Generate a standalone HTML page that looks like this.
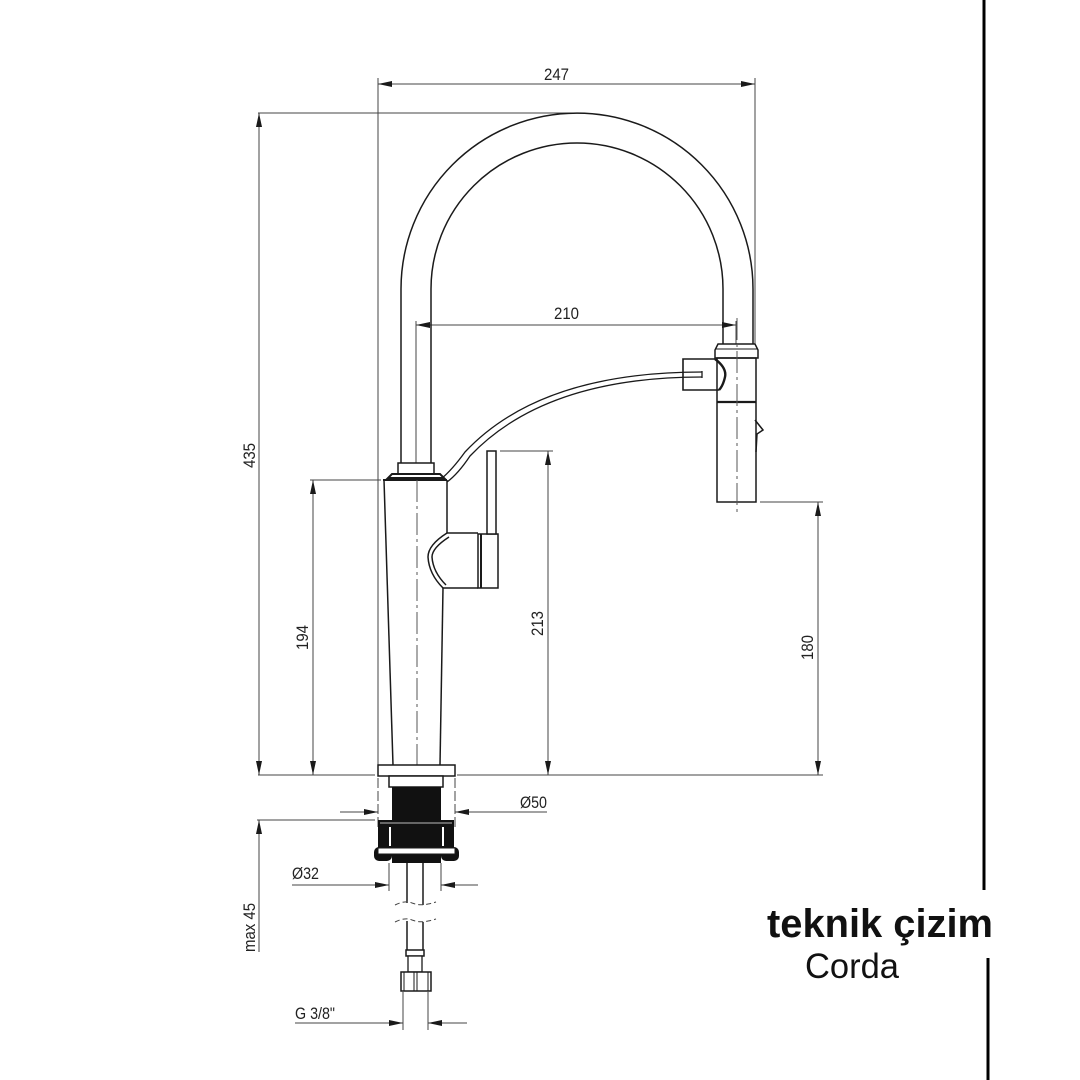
<!DOCTYPE html>
<html><head><meta charset="utf-8"><style>
html,body{margin:0;padding:0;background:#fff;}
svg{display:block;}
.o{stroke:#1a1a1a;stroke-width:1.5;fill:none;}
.d{stroke:#444;stroke-width:1;fill:none;}
.a{fill:#1a1a1a;stroke:none;}
.t{font-family:"Liberation Sans",sans-serif;font-size:17px;fill:#222;}
</style></head><body>
<svg width="1080" height="1080" viewBox="0 0 1080 1080" xmlns="http://www.w3.org/2000/svg">
<rect width="1080" height="1080" fill="#fff"/>
<!-- right border lines -->
<line x1="984" y1="0" x2="984" y2="890" stroke="#000" stroke-width="3"/>
<line x1="988" y1="958" x2="988" y2="1080" stroke="#000" stroke-width="3"/>

<!-- ===== extension lines ===== -->
<line class="d" x1="378" y1="78" x2="378" y2="770"/>
<line class="d" x1="378" y1="778" x2="378" y2="830" stroke-dasharray="10 3"/>
<line class="d" x1="455" y1="778" x2="455" y2="830" stroke-dasharray="10 3"/>
<line class="d" x1="755" y1="78" x2="755" y2="344"/>
<line class="d" x1="258" y1="113" x2="577" y2="113"/>
<line class="d" x1="416" y1="321" x2="416" y2="463"/>
<line class="d" x1="736" y1="321" x2="736" y2="344"/>
<line class="d" x1="258" y1="775" x2="375" y2="775"/>
<line class="d" x1="457" y1="775" x2="823" y2="775"/>
<line class="d" x1="310" y1="480" x2="381" y2="480"/>
<line class="d" x1="500" y1="451" x2="553" y2="451"/>
<line class="d" x1="760" y1="502" x2="823" y2="502"/>
<line class="d" x1="257" y1="820" x2="375" y2="820"/>
<line class="d" x1="389" y1="863" x2="389" y2="891"/>
<line class="d" x1="441" y1="863" x2="441" y2="891"/>
<line class="d" x1="403" y1="992" x2="403" y2="1030"/>
<line class="d" x1="428" y1="992" x2="428" y2="1030"/>

<!-- ===== dimension lines ===== -->
<!-- 247 -->
<line class="d" x1="378" y1="84" x2="755" y2="84"/>
<polygon class="a" points="378,84 392,81 392,87"/>
<polygon class="a" points="755,84 741,81 741,87"/>
<text class="t" x="544" y="80" textLength="25" lengthAdjust="spacingAndGlyphs">247</text>
<!-- 210 -->
<line class="d" x1="416" y1="325" x2="736" y2="325"/>
<polygon class="a" points="416,325 430,322 430,328"/>
<polygon class="a" points="736,325 722,322 722,328"/>
<text class="t" x="554" y="319" textLength="25" lengthAdjust="spacingAndGlyphs">210</text>
<!-- 435 -->
<line class="d" x1="259" y1="113" x2="259" y2="775"/>
<polygon class="a" points="259,113 256,127 262,127"/>
<polygon class="a" points="259,775 256,761 262,761"/>
<text class="t" transform="translate(255,468) rotate(-90)" textLength="25" lengthAdjust="spacingAndGlyphs">435</text>
<!-- 194 -->
<line class="d" x1="313" y1="480" x2="313" y2="775"/>
<polygon class="a" points="313,480 310,494 316,494"/>
<polygon class="a" points="313,775 310,761 316,761"/>
<text class="t" transform="translate(308,650) rotate(-90)" textLength="25" lengthAdjust="spacingAndGlyphs">194</text>
<!-- 213 -->
<line class="d" x1="548" y1="451" x2="548" y2="775"/>
<polygon class="a" points="548,451 545,465 551,465"/>
<polygon class="a" points="548,775 545,761 551,761"/>
<text class="t" transform="translate(543,636) rotate(-90)" textLength="25" lengthAdjust="spacingAndGlyphs">213</text>
<!-- 180 -->
<line class="d" x1="818" y1="502" x2="818" y2="775"/>
<polygon class="a" points="818,502 815,516 821,516"/>
<polygon class="a" points="818,775 815,761 821,761"/>
<text class="t" transform="translate(813,660) rotate(-90)" textLength="25" lengthAdjust="spacingAndGlyphs">180</text>
<!-- max 45 -->
<line class="d" x1="259" y1="820" x2="259" y2="952"/>
<polygon class="a" points="259,820 256,834 262,834"/>
<text class="t" transform="translate(255,952) rotate(-90)" textLength="49" lengthAdjust="spacingAndGlyphs">max 45</text>
<!-- Ø50 -->
<line class="d" x1="340" y1="812" x2="378" y2="812"/>
<polygon class="a" points="378,812 364,809 364,815"/>
<line class="d" x1="455" y1="812" x2="547" y2="812"/>
<polygon class="a" points="455,812 469,809 469,815"/>
<text class="t" x="520" y="808" textLength="27" lengthAdjust="spacingAndGlyphs">Ø50</text>
<!-- Ø32 -->
<line class="d" x1="292" y1="885" x2="389" y2="885"/>
<polygon class="a" points="389,885 375,882 375,888"/>
<line class="d" x1="441" y1="885" x2="478" y2="885"/>
<polygon class="a" points="441,885 455,882 455,888"/>
<text class="t" x="292" y="879" textLength="27" lengthAdjust="spacingAndGlyphs">Ø32</text>
<!-- G 3/8" -->
<line class="d" x1="295" y1="1023" x2="403" y2="1023"/>
<polygon class="a" points="403,1023 389,1020 389,1026"/>
<line class="d" x1="428" y1="1023" x2="467" y2="1023"/>
<polygon class="a" points="428,1023 442,1020 442,1026"/>
<text class="t" x="295" y="1019" textLength="40" lengthAdjust="spacingAndGlyphs">G 3/8"</text>

<!-- ===== spout ===== -->
<path class="o" d="M401,463 L401,289 A176,176 0 0 1 753,289 L753,344"/>
<path class="o" d="M431,463 L431,289 A146,146 0 0 1 723,289 L723,344"/>

<!-- collar & flange on body top -->
<rect x="398" y="463" width="36" height="11" fill="#fff" stroke="#1a1a1a" stroke-width="1.5"/>
<path d="M392,474 L440,474 L444,478 L388,478 Z" fill="#fff" stroke="#1a1a1a" stroke-width="2"/>
<line x1="383" y1="480" x2="447" y2="480" stroke="#1a1a1a" stroke-width="2"/>

<!-- hose -->
<path d="M441,479 Q452,470 465,452 Q540,372 702,372" fill="none" stroke="#1a1a1a" stroke-width="1.3"/>
<path d="M447,482 Q458,474 470,456 Q545,377 702,377" fill="none" stroke="#1a1a1a" stroke-width="1.3"/>
<line x1="702" y1="371" x2="702" y2="378" stroke="#1a1a1a" stroke-width="1.3"/>

<!-- body -->
<path class="o" d="M384,480 L393,765"/>
<path class="o" d="M447,480 L447,533"/>
<path class="o" d="M443,588 L440,765"/>
<line x1="417" y1="480" x2="417" y2="775" stroke="#555" stroke-width="1" stroke-dasharray="22 4 3 4"/>

<!-- handle -->
<path class="o" d="M447,533 Q428,545 428,557 Q429,574 443,588"/>
<path class="o" d="M449,537 Q432,548 432,557 Q433,572 446,585"/>
<line class="o" x1="447" y1="533" x2="478" y2="533"/>
<line class="o" x1="443" y1="588" x2="478" y2="588"/>
<rect x="478" y="534" width="20" height="54" fill="#fff" stroke="#1a1a1a" stroke-width="1.5"/>
<line x1="481" y1="534" x2="481" y2="588" stroke="#1a1a1a" stroke-width="2"/>
<rect x="487" y="451" width="9" height="83" fill="#fff" stroke="#1a1a1a" stroke-width="1.5"/>

<!-- ===== sprayer ===== -->
<path d="M718,344 L755,344 L758,350 L758,358 L715,358 L715,350 Z" fill="#fff" stroke="#1a1a1a" stroke-width="1.5"/>
<line x1="716" y1="349" x2="757" y2="349" stroke="#1a1a1a" stroke-width="1"/>
<rect x="717" y="358" width="39" height="144" fill="none" stroke="#1a1a1a" stroke-width="1.5"/>
<line x1="717" y1="402" x2="756" y2="402" stroke="#1a1a1a" stroke-width="2.2"/>
<path d="M715,359 L683,359 L683,390 L719,390" fill="none" stroke="#1a1a1a" stroke-width="1.6"/>
<path d="M715,359 Q727,368 725,377 Q723,386 719,390" fill="none" stroke="#1a1a1a" stroke-width="2.4"/>
<path d="M755,420 L763,430 L757,434 L756,452" fill="none" stroke="#1a1a1a" stroke-width="1.5"/>
<line x1="737" y1="318" x2="737" y2="512" stroke="#555" stroke-width="1" stroke-dasharray="22 4 3 4"/>

<!-- ===== base ===== -->
<rect x="378" y="765" width="77" height="11" fill="#fff" stroke="#1a1a1a" stroke-width="1.5"/>
<rect x="389" y="776" width="54" height="11" fill="#fff" stroke="#1a1a1a" stroke-width="1.5"/>
<rect x="392" y="787" width="49" height="36" fill="#111"/>
<rect x="378" y="820" width="76" height="28" fill="#111"/>
<line x1="380" y1="823" x2="452" y2="823" stroke="#bbb" stroke-width="1"/>
<rect x="389" y="827" width="2" height="19" fill="#fff"/>
<rect x="442" y="827" width="2" height="19" fill="#fff"/>
<rect x="374" y="847" width="18" height="14" rx="5" fill="#111"/>
<rect x="441" y="847" width="18" height="14" rx="5" fill="#111"/>
<rect x="392" y="852" width="49" height="11" fill="#111"/>
<rect x="378" y="848" width="77" height="6" fill="#fff" stroke="#1a1a1a" stroke-width="1"/>

<!-- supply pipe -->
<line class="o" x1="407" y1="863" x2="407" y2="903"/>
<line class="o" x1="423" y1="863" x2="423" y2="905"/>
<path d="M395,905 Q405,900 412,903 Q420,906 428,904 Q433,903 436,902" fill="none" stroke="#444" stroke-width="1" stroke-dasharray="5 3"/>
<path d="M395,922 Q405,917 412,920 Q420,923 428,921 Q433,920 436,919" fill="none" stroke="#444" stroke-width="1" stroke-dasharray="5 3"/>
<line class="o" x1="407" y1="921" x2="407" y2="950"/>
<line class="o" x1="423" y1="922" x2="423" y2="950"/>
<rect x="406" y="950" width="18" height="6" fill="#fff" stroke="#1a1a1a" stroke-width="1.5"/>
<rect x="408" y="956" width="14" height="16" fill="#fff" stroke="#1a1a1a" stroke-width="1.3"/>
<rect x="401" y="972" width="30" height="19" fill="#fff" stroke="#1a1a1a" stroke-width="1.5"/>
<line x1="404" y1="972" x2="404" y2="991" stroke="#1a1a1a" stroke-width="1"/>
<line x1="414" y1="972" x2="414" y2="991" stroke="#1a1a1a" stroke-width="1"/>
<line x1="417" y1="972" x2="417" y2="991" stroke="#1a1a1a" stroke-width="1"/>
<line x1="428" y1="972" x2="428" y2="991" stroke="#1a1a1a" stroke-width="1"/>

<!-- title -->
<text x="767" y="937" font-family="'Liberation Sans',sans-serif" font-weight="bold" font-size="40" fill="#111" textLength="226" lengthAdjust="spacingAndGlyphs">teknik çizim</text>
<text x="805" y="978" font-family="'Liberation Sans',sans-serif" font-size="35" fill="#111" textLength="94" lengthAdjust="spacingAndGlyphs">Corda</text>
</svg>
</body></html>
